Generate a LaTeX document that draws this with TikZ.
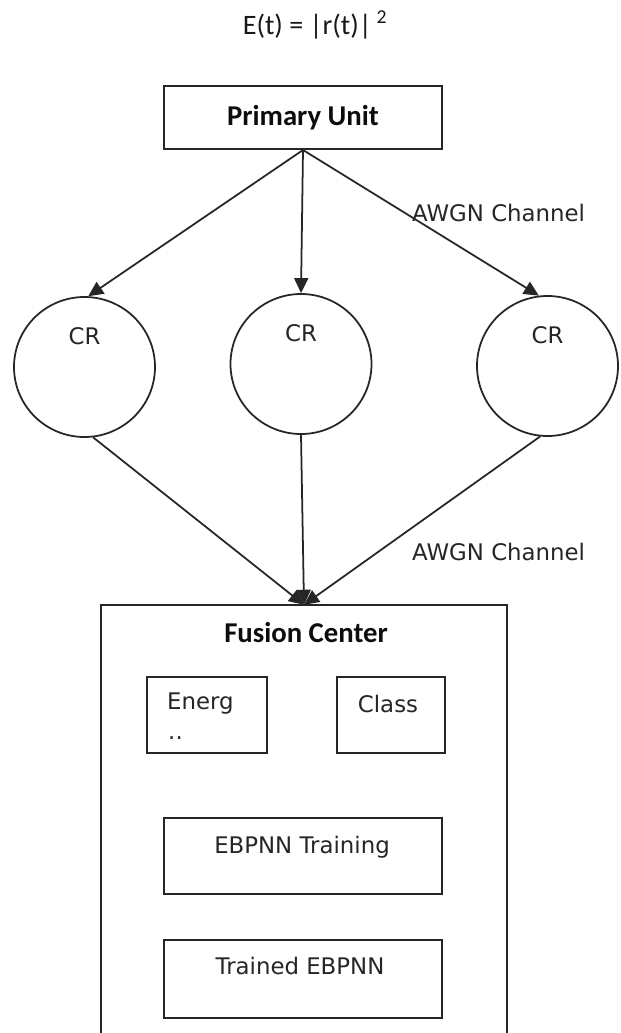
\documentclass[tikz,border=0pt]{standalone}
\usepackage{fontspec}
\setmainfont{DejaVu Sans}
\newfontfamily\calib{Carlito}
\usetikzlibrary{arrows.meta,shapes.geometric}
\begin{document}
\begin{tikzpicture}[x=0.03cm,y=-0.03cm,
  boxn/.style={draw=black!85, line width=1.7pt, rectangle, inner sep=0pt},
  crn/.style={draw=black!85, line width=1.5pt, ellipse, minimum width=4.23cm, minimum height=4.2cm, inner sep=0pt},
  lbl/.style={font=\fontsize{19.5}{23}\selectfont, text=black!85, inner sep=0pt},
  ttl/.style={font=\calib\bfseries\fontsize{24.5}{28}\selectfont, text=black!95, inner sep=0pt},
  arr/.style={draw=black!85, line width=1.5pt, -{Triangle[length=0.45cm,width=0.42cm]}},
  frame/.style={draw=black!85, line width=1.7pt}]
\useasboundingbox (0,0) rectangle (621,1033);
\fill[white] (0,0) rectangle (621,1033);

% formula
\node[font=\calib\fontsize{24}{28}\selectfont, text=black!90, inner sep=0pt] (eq) at (315,25) {E(t) = |r(t)|\,\textsuperscript{2}};

% primary unit
\node[boxn, ttl, minimum width=8.34cm, minimum height=1.89cm] (pu) at (303,117.5) {Primary Unit};

% CR nodes
\node[crn] (cr1) at (84.5,367) {};
\node[crn] (cr2) at (301,364) {};
\node[crn] (cr3) at (547.5,366) {};
\node[lbl] (crt1) at (84.5,336) {CR};
\node[lbl] (crt2) at (301,333) {CR};
\node[lbl] (crt3) at (547.5,335) {CR};

% fusion center frame (open at the bottom)
\node[minimum width=12.18cm, minimum height=12.93cm, inner sep=0pt] (fc) at (304,820.5) {};
\draw[frame] (fc.south west) -- (fc.north west) -- (fc.north east) -- (fc.south east);
\node[ttl] (fct) at (306,633) {Fusion Center};

% inner boxes
\node[boxn, minimum width=3.6cm, minimum height=2.28cm] (en) at (207,715) {};
\node[lbl, anchor=west] (ent) at (167,704) {Energ};
\node[lbl, anchor=west] (end) at (168,738) {..};
\node[boxn, minimum width=3.24cm, minimum height=2.28cm] (cl) at (391,715) {};
\node[lbl] (clt) at (388,704) {Class};
\node[boxn, minimum width=8.34cm, minimum height=2.28cm] (tr) at (303,856) {};
\node[lbl] (trt) at (302,847) {EBPNN Training};
\node[boxn, minimum width=8.34cm, minimum height=2.34cm] (te) at (303,979) {};
\node[lbl] (tet) at (300,966) {Trained EBPNN};

% connectors
\draw[arr] (pu.south) -- (cr1.87);
\draw[arr] (pu.south) -- (cr2.north);
\draw[arr] (pu.south) -- (cr3.97);
\draw[arr] (cr1.-83) -- (fc.north);
\draw[arr] (cr2.south) -- (fc.north);
\draw[arr] (cr3.-96) -- (fc.north);

% channel labels
\node[lbl, anchor=west] (aw1) at (412,213) {AWGN Channel};
\node[lbl, anchor=west] (aw2) at (412,552) {AWGN Channel};
\end{tikzpicture}
\end{document}
